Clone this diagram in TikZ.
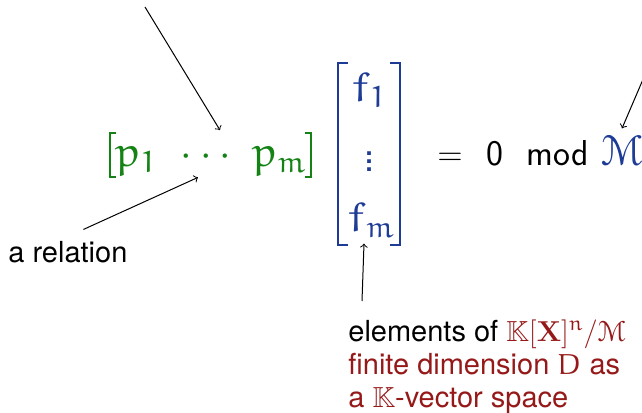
\documentclass[tikz,border=0pt]{standalone}
\usepackage{amssymb}
\usepackage{eucal}
\usepackage[no-math]{fontspec}
\setmainfont{TeX Gyre Heros}
\DeclareMathAlphabet{\mathEu}{U}{eur}{m}{n}

\begin{document}
\begin{tikzpicture}[
    x=0.5pt, y=-0.5pt,
    eq/.style={inner sep=0pt, font=\fontsize{18}{22}\selectfont},
    eqbig/.style={inner sep=0pt, font=\fontsize{21.5}{26}\selectfont},
    eqsf/.style={inner sep=0pt, font=\fontsize{18}{22}\selectfont\sffamily},
    note/.style={inner sep=0pt, align=left, font=\fontsize{14.5}{15.8}\selectfont},
    brk/.style={line width=0.7pt},
    ptr/.style={->, line width=0.5pt}
]

    % Colores
    \definecolor{c_green}{RGB}{20, 130, 20}
    \definecolor{c_blue}{RGB}{30, 60, 150}
    \definecolor{c_red}{RGB}{150, 25, 25}

    \useasboundingbox (0,0) rectangle (642,412);

    % Vector fila (la relacion)
    \node[eqbig, c_green, anchor=base] (p1)   at (136,166) {$\mathEu{p}_{\mathEu{1}}$};
    \node[eqbig, c_green, anchor=base] (dots) at (206,166) {${\cdot}\mkern3.5mu{\cdot}\mkern3.5mu{\cdot}$};
    \node[eqbig, c_green, anchor=base] (pm)   at (279,166) {$\mathEu{p}_{\mathEu{m}}$};
    \draw[brk, c_green] (116,133) -- (110,133) -- (110,177) -- (116,177);
    \draw[brk, c_green] (305,133) -- (311,133) -- (311,177) -- (305,177);

    % Vector columna
    \node[eqbig, c_blue, anchor=base] (f1) at (369,101) {$\mathEu{f}_{\mathEu{1}}$};
    \node[eq, c_blue]                 (vd) at (369,156) {$\vdots$};
    \node[eqbig, c_blue, anchor=base] (fm) at (371,231) {$\mathEu{f}_{\mathEu{m}}$};
    \draw[brk, c_blue, line width=1.3pt] (348,63) -- (338,63) -- (338,245) -- (348,245);
    \draw[brk, c_blue, line width=1.3pt] (390,63) -- (400,63) -- (400,245) -- (390,245);

    % = 0 mod M
    \node[eq, anchor=base]            (eqs)  at (450,165) {$=$};
    \node[eqsf, anchor=base]          (zero) at (495,165) {0};
    \node[eqsf, anchor=base]          (mod)  at (558,165) {mod};
    \node[eqbig, c_blue, anchor=base] (M)    at (622,165) {$\mathcal{M}$};

    % Etiquetas
    \node[note, anchor=base west] (rel) at (8,262) {a relation};
    \node[note, anchor=north west] (elem) at (348,319)
        {elements of \textcolor{c_red}{$\mathbb{K}[\mathbf{X}]^{\mathEu{n}}/\mathcal{M}$}\\[0.9pt]
         \textcolor{c_red}{finite dimension $\mathEu{D}$ as}\\[0.9pt]
         \textcolor{c_red}{a $\mathbb{K}$-vector space}};

    % Flechas
    \coordinate (dots src) at (145,7);
    \coordinate (M src) at (662,35);
    \draw[ptr] (dots src) -- ([xshift=7pt, yshift=8.5pt]dots.north);
    \draw[ptr] ([xshift=7.75pt, yshift=5.5pt]rel.north) -- ([xshift=-4pt, yshift=-5.5pt]dots.south);
    \draw[ptr] ([xshift=7pt, yshift=9pt]elem.north west) -- ([xshift=-3.5pt, yshift=-3pt]fm.south);
    \draw[ptr] (M src) -- ([xshift=0pt, yshift=3pt]M.north);

\end{tikzpicture}
\end{document}
